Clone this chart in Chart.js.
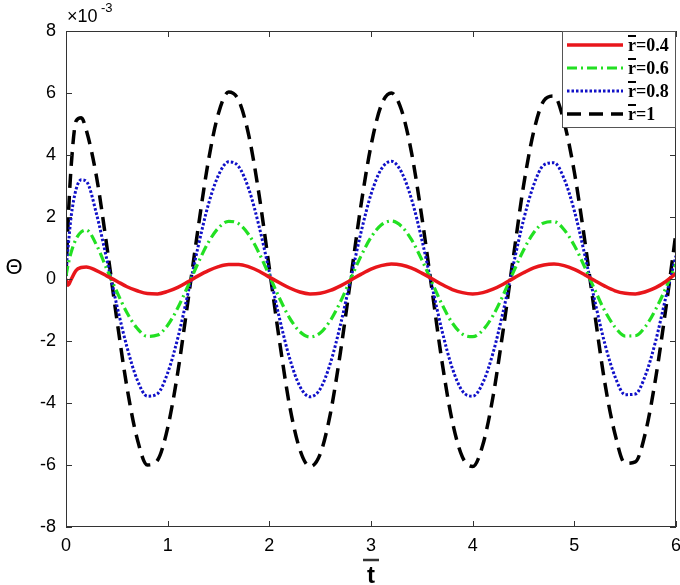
<!DOCTYPE html>
<html lang="en">
<head>
  <meta charset="UTF-8" />
  <title>Theta vs t</title>
  <script src="https://cdn.jsdelivr.net/npm/chart.js"></script>
  <style>
    body {
      margin: 0;
      background: #fff;
    }
    #wrap {
      width: 680px;
      height: 585px;
    }
  </style>
</head>
<body>
<div id="wrap">
  <canvas id="thetaChart" width="680" height="585"></canvas>
</div>

<script>
  // time samples (t bar), values of Theta in units of 1e-3
  const tValues = [0, 0.02, 0.05, 0.1, 0.15, 0.2, 0.3, 0.4, 0.5, 0.6, 0.7, 0.8, 0.9, 1.0,
    1.1, 1.2, 1.3, 1.4, 1.5, 1.6, 1.7, 1.8, 1.9, 2.0, 2.1, 2.2, 2.3, 2.4, 2.5, 2.6, 2.7, 2.8,
    2.9, 3.0, 3.1, 3.2, 3.3, 3.4, 3.5, 3.6, 3.7, 3.8, 3.9, 4.0, 4.1, 4.2, 4.3, 4.4, 4.5, 4.6,
    4.7, 4.8, 4.9, 5.0, 5.1, 5.2, 5.3, 5.4, 5.5, 5.6, 5.7, 5.8, 5.9, 6.0];

  const r04 = [0, -0.2, -0.02, 0.28, 0.37, 0.39, 0.27, 0.1, -0.07, -0.25, -0.38, -0.47, -0.48, -0.40,
    -0.27, -0.09, 0.10, 0.27, 0.40, 0.47, 0.47, 0.39, 0.25, 0.06, -0.12, -0.29, -0.42, -0.48, -0.46, -0.37, -0.22, -0.04,
    0.15, 0.32, 0.43, 0.48, 0.45, 0.35, 0.19, 0.01, -0.18, -0.34, -0.44, -0.48, -0.44, -0.33, -0.17, 0.02, 0.20, 0.36,
    0.45, 0.48, 0.43, 0.31, 0.14, -0.05, -0.23, -0.38, -0.46, -0.48, -0.41, -0.28, -0.08, 0.18];

  const r06 = [0.1, 0.45, 0.85, 1.3, 1.52, 1.58, 1.1, 0.33, -0.41, -1.09, -1.59, -1.85, -1.81, -1.49,
    -0.93, -0.22, 0.52, 1.18, 1.65, 1.86, 1.78, 1.42, 0.83, 0.11, -0.62, -1.26, -1.7, -1.87, -1.74, -1.34, -0.73, 0.0,
    0.73, 1.34, 1.74, 1.87, 1.7, 1.26, 0.62, -0.11, -0.83, -1.42, -1.78, -1.86, -1.65, -1.18, -0.52, 0.22, 0.93, 1.49,
    1.81, 1.85, 1.59, 1.08, 0.4, -0.34, -1.03, -1.55, -1.84, -1.83, -1.53, -0.98, -0.29, 0.48];

  const r08 = [0.3, 1.0, 2.0, 2.9, 3.2, 3.15, 2.1, 0.65, -0.85, -2.2, -3.25, -3.78, -3.7, -3.03,
    -1.9, -0.46, 1.05, 2.4, 3.35, 3.78, 3.62, 2.88, 1.69, 0.23, -1.27, -2.56, -3.46, -3.8, -3.55, -2.72, -1.47, 0.0,
    1.48, 2.73, 3.54, 3.8, 3.45, 2.56, 1.27, -0.23, -1.69, -2.88, -3.62, -3.78, -3.35, -2.39, -1.05, 0.46, 1.9, 3.03,
    3.68, 3.75, 3.23, 2.2, 0.82, -0.69, -2.09, -3.15, -3.73, -3.71, -3.1, -2.0, -0.59, 0.75];

  const r10 = [0.1, 1.8, 3.6, 5.1, 5.2, 4.8, 3.3, 1.1, -1.3, -3.5, -5.15, -6.0, -5.85, -4.8,
    -3.0, -0.7, 1.65, 3.8, 5.35, 6.03, 5.75, 4.6, 2.7, 0.35, -2.0, -4.1, -5.5, -6.05, -5.65, -4.35, -2.35, 0.0,
    2.35, 4.3, 5.6, 6.0, 5.45, 4.05, 2.0, -0.35, -2.7, -4.6, -5.75, -6.05, -5.35, -3.8, -1.65, 0.7, 3.0, 4.75,
    5.75, 5.9, 5.05, 3.45, 1.3, -1.1, -3.35, -5.0, -5.95, -5.9, -4.95, -3.2, -0.95, 1.5];

  const seriesLabels = ["0.4", "0.6", "0.8", "1"];
  const xTicks = [0, 1, 2, 3, 4, 5, 6];
  const yTicks = [-8, -6, -4, -2, 0, 2, 4, 6, 8];

  function toPoints(ys) {
    return tValues.map((t, i) => ({ x: t, y: ys[i] }));
  }

  function lineSet(label, ys, color, width, dash) {
    return {
      label: label,
      data: toPoints(ys),
      borderColor: color,
      backgroundColor: color,
      borderWidth: width,
      borderDash: dash,
      pointRadius: 0,
      fill: false,
      cubicInterpolationMode: "monotone"
    };
  }

  // frame, inward ticks, axis labels and the boxed legend
  const decorations = {
    id: "decorations",
    afterDatasetsDraw(chart) {
      const ctx = chart.ctx;
      const a = chart.chartArea;
      const xs = chart.scales.x;
      const ys = chart.scales.y;

      ctx.save();
      ctx.strokeStyle = "#333";
      ctx.lineWidth = 1;
      ctx.strokeRect(a.left + 0.5, a.top + 0.5, a.right - a.left - 1, a.bottom - a.top - 1);

      ctx.beginPath();
      xTicks.forEach(v => {
        const px = Math.round(xs.getPixelForValue(v)) + 0.5;
        ctx.moveTo(px, a.bottom); ctx.lineTo(px, a.bottom - 6);
        ctx.moveTo(px, a.top); ctx.lineTo(px, a.top + 6);
      });
      yTicks.forEach(v => {
        const py = Math.round(ys.getPixelForValue(v)) + 0.5;
        ctx.moveTo(a.left, py); ctx.lineTo(a.left + 6, py);
        ctx.moveTo(a.right, py); ctx.lineTo(a.right - 6, py);
      });
      ctx.stroke();

      // exponent above the y axis
      ctx.fillStyle = "#000";
      ctx.textBaseline = "alphabetic";
      ctx.textAlign = "left";
      ctx.font = "18px 'Liberation Sans', Arial, sans-serif";
      ctx.fillText("\u00d710", 67, 22);
      ctx.font = "13px 'Liberation Sans', Arial, sans-serif";
      ctx.fillText("-3", 101, 12);

      // y axis title, upright
      ctx.font = "22px 'Liberation Sans', Arial, sans-serif";
      ctx.textAlign = "center";
      ctx.textBaseline = "middle";
      ctx.fillText("\u0398", 14, 268);

      // x axis title with overbar
      const xc = (a.left + a.right) / 2;
      ctx.font = "bold 24px 'Liberation Sans', Arial, sans-serif";
      ctx.textBaseline = "alphabetic";
      ctx.fillText("t", xc, 583);
      ctx.lineWidth = 2.5;
      ctx.beginPath();
      ctx.moveTo(xc - 8, 560);
      ctx.lineTo(xc + 8, 560);
      ctx.stroke();

      // legend
      const lx = 562, ly = a.top, lw = a.right - 562, lh = 97;
      ctx.fillStyle = "#fff";
      ctx.fillRect(lx, ly, lw, lh);
      ctx.strokeStyle = "#555";
      ctx.lineWidth = 1;
      ctx.strokeRect(lx + 0.5, ly + 0.5, lw - 1, lh - 1);

      chart.data.datasets.forEach((ds, i) => {
        const base = 51 + i * 23;
        const yLine = base - 6;
        ctx.strokeStyle = ds.borderColor;
        ctx.lineWidth = ds.borderWidth;
        ctx.setLineDash(ds.borderDash || []);
        ctx.beginPath();
        ctx.moveTo(567, yLine);
        ctx.lineTo(623, yLine);
        ctx.stroke();
        ctx.setLineDash([]);

        ctx.fillStyle = "#000";
        ctx.textAlign = "left";
        ctx.font = "bold 18px 'Liberation Serif', 'Times New Roman', serif";
        ctx.fillText("r=" + ds.label, 628, base);
        const rw = ctx.measureText("r").width;
        ctx.strokeStyle = "#000";
        ctx.lineWidth = 2;
        ctx.beginPath();
        ctx.moveTo(628, base - 15);
        ctx.lineTo(628 + rw, base - 15);
        ctx.stroke();
      });
      ctx.restore();
    }
  };

  document.addEventListener("DOMContentLoaded", function () {
    Chart.defaults.font.family = "'Liberation Sans', Arial, sans-serif";
    Chart.defaults.font.size = 18;
    Chart.defaults.color = "#000";

    new Chart(document.getElementById("thetaChart").getContext("2d"), {
      type: "line",
      data: {
        datasets: [
          lineSet("0.4", r04, "#e8161b", 3.5, []),
          lineSet("0.6", r06, "#22e022", 3.2, [10, 4, 2, 4]),
          lineSet("0.8", r08, "#1010c8", 3, [2.5, 2]),
          lineSet("1", r10, "#000000", 3.5, [14, 8])
        ]
      },
      options: {
        responsive: false,
        animation: false,
        layout: { padding: { left: 0, right: 4, top: 31, bottom: 0 } },
        plugins: {
          legend: { display: false },
          tooltip: { enabled: false }
        },
        scales: {
          x: {
            type: "linear",
            min: 0,
            max: 6,
            afterFit: s => { s.height = 58; s.paddingLeft = 0; s.paddingRight = 0; },
            afterBuildTicks: s => { s.ticks = xTicks.map(v => ({ value: v })); },
            grid: { display: false, drawTicks: false },
            border: { display: false },
            ticks: { padding: 8, maxRotation: 0 }
          },
          y: {
            min: -8,
            max: 8,
            afterFit: s => { s.width = 66; s.paddingTop = 0; s.paddingBottom = 0; },
            afterBuildTicks: s => { s.ticks = yTicks.map(v => ({ value: v })); },
            grid: { display: false, drawTicks: false },
            border: { display: false },
            ticks: { padding: 10 }
          }
        }
      },
      plugins: [decorations]
    });
  });
</script>
</body>
</html>
